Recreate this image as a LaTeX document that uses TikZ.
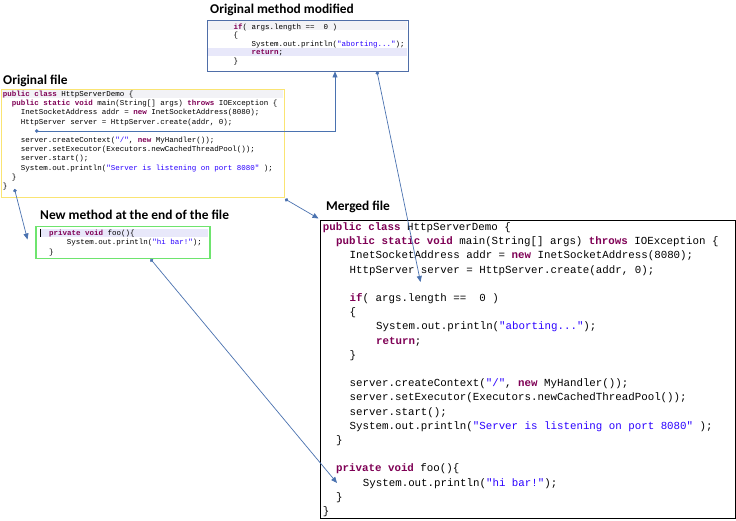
\documentclass[tikz,border=0pt]{standalone}
\usepackage{fontspec}
\setmainfont{Carlito}
\newfontfamily\codefont{Liberation Mono}
\usetikzlibrary{arrows.meta}
\definecolor{kwc}{RGB}{127,0,85}
\definecolor{strc}{RGB}{42,0,255}
\definecolor{arrc}{RGB}{74,114,176}
\definecolor{topc}{RGB}{79,110,168}
\definecolor{yelc}{RGB}{250,228,115}
\definecolor{grnc}{RGB}{110,228,110}
\definecolor{hlv}{RGB}{232,232,250}
\definecolor{hlg}{RGB}{242,242,246}
\newcommand{\jkw}[1]{\textbf{\color{kwc}#1}}
\newcommand{\jstr}[1]{{\color{strc}#1}}
\frenchspacing
\begin{document}
\begin{tikzpicture}[x=1pt,y=-1pt,
  title/.style={font=\fontsize{13.4}{13.4}\selectfont\bfseries, anchor=base west, inner sep=0},
  big/.style={font=\codefont\fontsize{10.8}{10.8}\selectfont, anchor=base west, inner sep=0},
  small/.style={font=\codefont\fontsize{7.5}{7.5}\selectfont, anchor=base west, inner sep=0},
  conn/.style={draw=arrc, line width=0.7pt, {Circle[length=3.5pt]}-{Triangle[length=6pt,width=5pt]}}]
\useasboundingbox[fill=white] (0,0) rectangle (736,521);

% ---------- Original method modified ----------
\node[title] (ttop) at (210,14) {Original method modified};
\fill[hlg] (208,21) rectangle (407,30);
\fill[hlv] (208,48) rectangle (407,56);
\node[draw=topc, line width=0.8pt, minimum width=201pt, minimum height=51pt, anchor=north west, inner sep=0] (topbox) at (207,20) {};
\node[small] (t1) at (233.3,29.5) {\jkw{if}( args.length ==~~0 )};
\node[small] (t2) at (233.3,38) {\{};
\node[small] (t3) at (251.5,46.5) {System.out.println(\jstr{"aborting..."});};
\node[small] (t4) at (251.5,55) {\jkw{return};};
\node[small] (t5) at (233.3,63.5) {\}};

% ---------- Original file ----------
\node[title] (torig) at (3,84.5) {Original file};
\fill[hlg] (2,89.5) rectangle (283,98);
\node[draw=yelc, line width=1pt, minimum width=283pt, minimum height=108pt, anchor=north west, inner sep=0] (origbox) at (1,89) {};
\node[small] (o1) at (2.7,96.5) {\jkw{public} \jkw{class} HttpServerDemo \{};
\node[small] (o2) at (11.6,105.7) {\jkw{public} \jkw{static} \jkw{void} main(String[] args) \jkw{throws} IOException \{};
\node[small] (o3) at (20.6,114.9) {InetSocketAddress addr = \jkw{new} InetSocketAddress(8080);};
\node[small] (o4) at (20.6,124.1) {HttpServer server = HttpServer.create(addr, 0);};
\node[small] (o5) at (20.6,142.5) {server.createContext(\jstr{"/"}, \jkw{new} MyHandler());};
\node[small] (o6) at (20.6,151.7) {server.setExecutor(Executors.newCachedThreadPool());};
\node[small] (o7) at (20.6,160.9) {server.start();};
\node[small] (o8) at (20.6,170.1) {System.out.println(\jstr{"Server is listening on port 8080"} );};
\node[small] (o9) at (11.6,179.3) {\}};
\node[small] (o10) at (2.7,188.5) {\}};

% ---------- New method ----------
\node[title] (tnew) at (40,219.5) {New method at the end of the file};
\fill[hlv] (40,229) rectangle (208,237.5);
\node[draw=grnc, line width=1.5pt, minimum width=174pt, minimum height=32pt, anchor=north west, inner sep=0] (newbox) at (35,226) {};
\draw[line width=1pt] (40.7,229) -- (40.7,237.5);
\node[small] (g1) at (49,235.8) {\jkw{private} \jkw{void} foo()\{};
\node[small] (g2) at (66.7,245) {System.out.println(\jstr{"hi bar!"});};
\node[small] (g3) at (49,254.2) {\}};

% ---------- Merged file ----------
\node[title] (tmerged) at (326,211) {Merged file};
\node[draw=black, line width=0.9pt, minimum width=415pt, minimum height=298pt, anchor=north west, inner sep=0] (mergedbox) at (319.5,220) {};
\node[big] (m0) at (322.7,230.5) {\jkw{public} \jkw{class} HttpServerDemo \{};
\node[big] (m1) at (336,244.7) {\jkw{public} \jkw{static} \jkw{void} main(String[] args) \jkw{throws} IOException \{};
\node[big] (m2) at (349.5,258.9) {InetSocketAddress addr = \jkw{new} InetSocketAddress(8080);};
\node[big] (m3) at (349.5,273.1) {HttpServer server = HttpServer.create(addr, 0);};
\node[big] (m5) at (349.5,301.5) {\jkw{if}( args.length ==~~0 )};
\node[big] (m6) at (349.5,315.7) {\{};
\node[big] (m7) at (375.9,329.9) {System.out.println(\jstr{"aborting..."});};
\node[big] (m8) at (375.9,344.1) {\jkw{return};};
\node[big] (m9) at (349.5,358.3) {\}};
\node[big] (m11) at (349.5,386.7) {server.createContext(\jstr{"/"}, \jkw{new} MyHandler());};
\node[big] (m12) at (349.5,400.9) {server.setExecutor(Executors.newCachedThreadPool());};
\node[big] (m13) at (349.5,415.1) {server.start();};
\node[big] (m14) at (349.5,429.3) {System.out.println(\jstr{"Server is listening on port 8080"} );};
\node[big] (m15) at (336,443.5) {\}};
\node[big] (m17) at (336,471.9) {\jkw{private} \jkw{void} foo()\{};
\node[big] (m18) at (362.7,486.1) {System.out.println(\jstr{"hi bar!"});};
\node[big] (m19) at (336,500.3) {\}};
\node[big] (m20) at (322.7,514.5) {\}};

% ---------- connectors ----------
\coordinate (c1s) at (35,131);
\coordinate (c1e) at (335,71.5);
\coordinate (c2s) at (377,71.5);
\coordinate (c2e) at (420.5,282);
\coordinate (c3s) at (14.5,189);
\coordinate (c3e) at (27.5,239.5);
\coordinate (c4s) at (285,199);
\coordinate (c4e) at (318.5,218.5);
\coordinate (c5s) at (150.5,259);
\coordinate (c5e) at (337,483);
\draw[conn] (c1s) -| (c1e);
\draw[conn] (c2s) -- (c2e);
\draw[conn] (c3s) -- (c3e);
\draw[conn] (c4s) -- (c4e);
\draw[conn] (c5s) -- (c5e);
\end{tikzpicture}
\end{document}
